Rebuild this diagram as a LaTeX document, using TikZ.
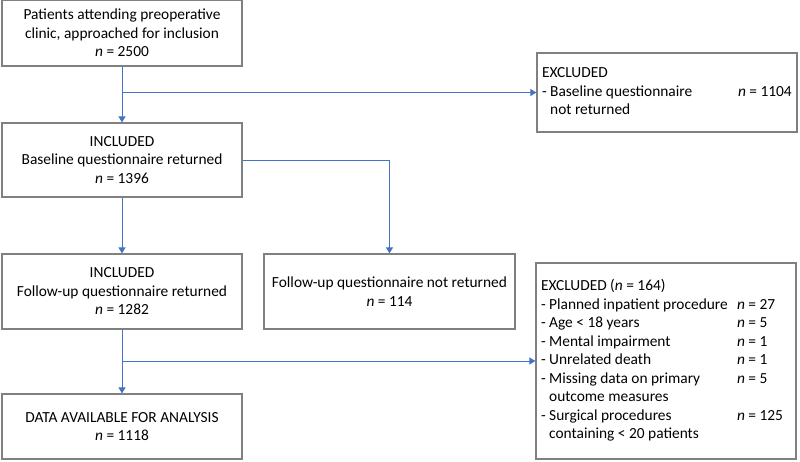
\documentclass[tikz,border=0pt]{standalone}
\usepackage{fontspec}
\setmainfont{Carlito}
\usetikzlibrary{arrows.meta}
\definecolor{flowblue}{RGB}{68,114,196}
\definecolor{boxgray}{RGB}{128,128,128}
\newcommand\nn{\textit{n}}

\begin{document}
\begin{tikzpicture}[x=1pt, y=-1pt,
  box/.style={draw=boxgray, line width=1.2pt, align=center, inner sep=4pt,
    font=\fontsize{15.4}{18.5}\selectfont},
  exclbox/.style={box, minimum width=260pt},
  flow/.style={draw=flowblue, line width=0.9pt, -{Triangle[length=6pt, width=7pt]}}]

  \useasboundingbox (0, 0) rectangle (800, 461);

  % main column
  \node[box, minimum width=240pt, minimum height=66pt] (patients) at (122, 33)
    {Patients attending preoperative\\clinic, approached for inclusion\\\nn{} = 2500};
  \node[box, minimum width=240pt, minimum height=74pt] (baseline) at (122, 160)
    {INCLUDED\\Baseline questionnaire returned\\\nn{} = 1396};
  \node[box, minimum width=240pt, minimum height=75pt] (followup) at (122, 291.5)
    {INCLUDED\\Follow-up questionnaire returned\\\nn{} = 1282};
  \node[box, minimum width=240pt, minimum height=65pt] (data) at (122, 426.5)
    {DATA AVAILABLE FOR ANALYSIS\\\nn{} = 1118};
  \node[box, minimum width=251pt, minimum height=75pt] (notret) at (389.5, 291.5)
    {Follow-up questionnaire not returned\\\nn{} = 114};

  % exclusions
  \node[exclbox, minimum height=79pt] (excl1) at (667, 92.5) {%
    \begin{tabular}{@{}p{196pt}@{}p{54pt}@{}}
      EXCLUDED & \\
      - Baseline questionnaire & \nn{} = 1104 \\
      \phantom{- }not returned & \\
    \end{tabular}};
  \node[exclbox, minimum height=196pt] (excl2) at (666, 361) {%
    \begin{tabular}{@{}p{196pt}@{}p{54pt}@{}}
      EXCLUDED (\nn{} = 164) & \\
      - Planned inpatient procedure & \nn{} = 27 \\
      - Age < 18 years & \nn{} = 5 \\
      - Mental impairment & \nn{} = 1 \\
      - Unrelated death & \nn{} = 1 \\
      - Missing data on primary & \nn{} = 5 \\
      \phantom{- }outcome measures & \\
      - Surgical procedures & \nn{} = 125 \\
      \phantom{- }containing < 20 patients & \\
    \end{tabular}};

  % connectors
  \draw[flow] (patients) -- (baseline);
  \coordinate (split1) at (patients.south |- excl1.west);
  \draw[flow] (split1) -- (excl1);
  \draw[flow] (baseline.east) -| (notret);
  \draw[flow] (baseline) -- (followup);
  \draw[flow] (followup) -- (data);
  \coordinate (split2) at (followup.south |- excl2.west);
  \draw[flow] (split2) -- (excl2);

\end{tikzpicture}
\end{document}
